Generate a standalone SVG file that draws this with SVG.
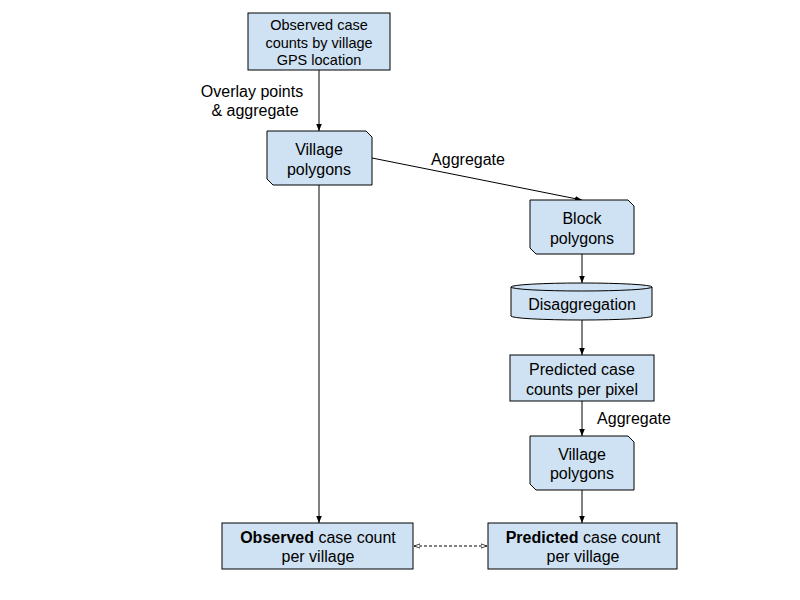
<svg xmlns="http://www.w3.org/2000/svg" width="800" height="600" viewBox="0 0 800 600">
<defs>
<marker id="arr" viewBox="0 0 10 10" refX="10" refY="5" markerWidth="7" markerHeight="7" orient="auto" markerUnits="userSpaceOnUse"><path d="M0,1 L10,5 L0,9 Z" fill="#000"/></marker>
<marker id="open" viewBox="0 0 10 10" refX="10" refY="5" markerWidth="6" markerHeight="6" orient="auto-start-reverse" markerUnits="userSpaceOnUse"><path d="M0,1.5 L10,5 L0,8.5 Z" fill="#fff" stroke="#000" stroke-width="1.2"/></marker>
<style>
.n{fill:#cfe2f3;stroke:#000;stroke-width:1}
.t{font-family:"Liberation Sans",Arial,sans-serif;font-size:16px;fill:#000;text-anchor:middle}
.s{font-size:14.5px}
.c{stroke:#000;stroke-width:1;fill:none}
</style>
</defs>
<rect width="800" height="600" fill="#fff"/>
<g id="connectors">
<line class="c" x1="319" y1="70" x2="319" y2="131" marker-end="url(#arr)"/>
<line class="c" x1="372" y1="158" x2="582" y2="200" marker-end="url(#arr)"/>
<line class="c" x1="582" y1="254" x2="582" y2="283" marker-end="url(#arr)"/>
<line class="c" x1="582" y1="320" x2="582" y2="355" marker-end="url(#arr)"/>
<line class="c" x1="582" y1="401" x2="582" y2="436" marker-end="url(#arr)"/>
<line class="c" x1="582" y1="490" x2="582" y2="523" marker-end="url(#arr)"/>
<line class="c" x1="319" y1="185" x2="319" y2="523" marker-end="url(#arr)"/>
<line class="c" x1="414" y1="546" x2="487" y2="546" stroke-dasharray="3,2" marker-start="url(#open)" marker-end="url(#open)"/>
<text class="t" x="252" y="97">Overlay points</text>
<text class="t" x="255" y="116">&amp; aggregate</text>
<text class="t" x="468" y="165">Aggregate</text>
<text class="t" x="634" y="424">Aggregate</text>
</g>
<g id="observed-gps">
<rect class="n" x="248" y="13" width="142" height="57"/>
<text class="t s" x="319" y="30">Observed case</text>
<text class="t s" x="319" y="48">counts by village</text>
<text class="t s" x="319" y="65">GPS location</text>
</g>
<g id="village-polygons-1">
<path class="n" d="M267,131 H366 L372,137 V185 H273 L267,179 Z"/>
<text class="t" x="319" y="155">Village</text>
<text class="t" x="319" y="175">polygons</text>
</g>
<g id="block-polygons">
<path class="n" d="M530,200 H628 L634,206 V254 H536 L530,248 Z"/>
<text class="t" x="582" y="224">Block</text>
<text class="t" x="582" y="244">polygons</text>
</g>
<g id="disaggregation">
<path class="n" d="M511,287 A70.5,4 0 0 1 652,287 V316 A70.5,4 0 0 1 511,316 Z"/>
<path class="c" d="M511,287 A70.5,4 0 0 0 652,287"/>
<text class="t" x="582" y="310">Disaggregation</text>
</g>
<g id="predicted-pixel">
<rect class="n" x="510" y="355" width="144" height="46"/>
<text class="t" x="582" y="375">Predicted case</text>
<text class="t" x="582" y="395">counts per pixel</text>
</g>
<g id="village-polygons-2">
<path class="n" d="M530,436 H628 L634,442 V490 H536 L530,484 Z"/>
<text class="t" x="582" y="460">Village</text>
<text class="t" x="582" y="479">polygons</text>
</g>
<g id="observed-village">
<rect class="n" x="222" y="523" width="191" height="46"/>
<text class="t" x="318" y="543"><tspan font-weight="bold">Observed</tspan> case count</text>
<text class="t" x="318" y="562">per village</text>
</g>
<g id="predicted-village">
<rect class="n" x="488" y="523" width="189" height="46"/>
<text class="t" x="583" y="543"><tspan font-weight="bold">Predicted</tspan> case count</text>
<text class="t" x="583" y="562">per village</text>
</g>
</svg>
